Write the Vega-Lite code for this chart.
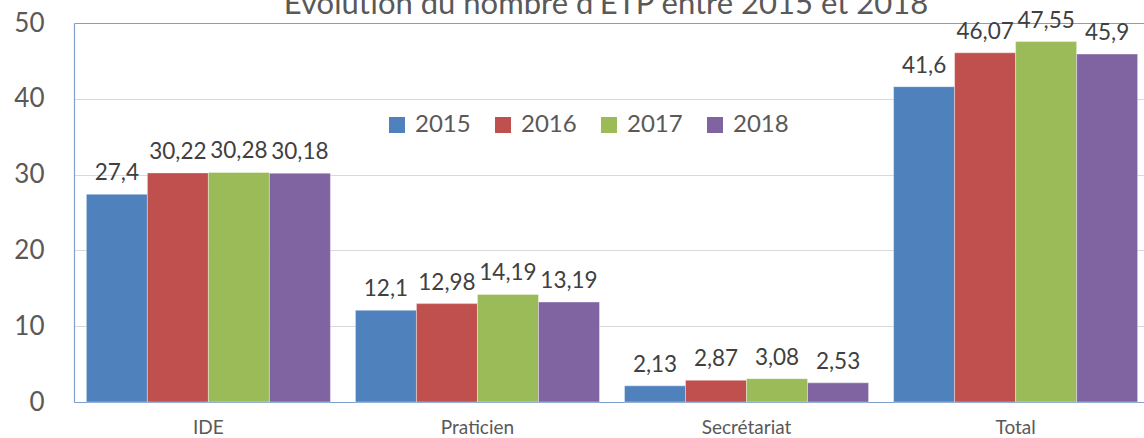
{
  "$schema": "https://vega.github.io/schema/vega-lite/v6.json",
  "width": 1070,
  "height": 379,
  "autosize": {"type": "none"},
  "padding": {"left": 74, "top": 23, "right": 0, "bottom": 36},
  "background": "white",
  "title": {
    "text": "Évolution du nombre d'ETP entre 2015 et 2018",
    "font": "Lato",
    "fontSize": 31,
    "fontWeight": "normal",
    "color": "#595959",
    "anchor": "middle",
    "frame": "group",
    "baseline": "alphabetic",
    "offset": 0,
    "dx": -3,
    "dy": 35
  },
  "config": {
    "locale": {"number": {"decimal": ",", "thousands": " ", "grouping": [3], "currency": ["", " €"]}},
    "view": {"stroke": null},
    "font": "Lato"
  },
  "data": {
    "values": [
      {"cat": "IDE", "year": "2015", "val": 27.4},
      {"cat": "IDE", "year": "2016", "val": 30.22},
      {"cat": "IDE", "year": "2017", "val": 30.28},
      {"cat": "IDE", "year": "2018", "val": 30.18},
      {"cat": "Praticien", "year": "2015", "val": 12.1},
      {"cat": "Praticien", "year": "2016", "val": 12.98},
      {"cat": "Praticien", "year": "2017", "val": 14.19},
      {"cat": "Praticien", "year": "2018", "val": 13.19},
      {"cat": "Secrétariat", "year": "2015", "val": 2.13},
      {"cat": "Secrétariat", "year": "2016", "val": 2.87},
      {"cat": "Secrétariat", "year": "2017", "val": 3.08},
      {"cat": "Secrétariat", "year": "2018", "val": 2.53},
      {"cat": "Total", "year": "2015", "val": 41.6},
      {"cat": "Total", "year": "2016", "val": 46.07},
      {"cat": "Total", "year": "2017", "val": 47.55},
      {"cat": "Total", "year": "2018", "val": 45.9}
    ]
  },
  "encoding": {
    "x": {
      "field": "cat",
      "type": "nominal",
      "sort": ["IDE", "Praticien", "Secrétariat", "Total"],
      "scale": {"paddingInner": 0.093, "paddingOuter": 0.046, "range": [0, 1076]},
      "axis": {
        "title": null,
        "labelAngle": 0,
        "labelFont": "Lato",
        "labelFontSize": 19,
        "labelColor": "#595959",
        "labelPadding": 16,
        "ticks": false,
        "domain": true,
        "domainColor": "#7f9fcf",
        "domainWidth": 1.2
      }
    },
    "xOffset": {"field": "year", "type": "nominal", "scale": {"paddingInner": 0, "paddingOuter": 0}},
    "y": {
      "field": "val",
      "type": "quantitative",
      "scale": {"domain": [0, 50], "nice": false},
      "axis": {
        "title": null,
        "values": [0, 10, 20, 30, 40, 50],
        "labelFont": "Lato",
        "labelFontSize": 26,
        "labelColor": "#595959",
        "labelPadding": 30,
        "ticks": false,
        "domain": true,
        "domainColor": "#7f9fcf",
        "domainWidth": 1.2,
        "gridColor": {"condition": {"test": "datum.value === 50", "value": "#7f9fcf"}, "value": "#d9d9d9"},
        "gridWidth": {"condition": {"test": "datum.value === 50", "value": 1.2}, "value": 1}
      }
    }
  },
  "layer": [
    {
      "mark": {"type": "bar", "stroke": "#ffffff", "strokeWidth": 0.6, "strokeOpacity": 0.6},
      "encoding": {
        "color": {
          "field": "year",
          "type": "nominal",
          "scale": {"domain": ["2015", "2016", "2017", "2018"], "range": ["#4f81bd", "#c0504d", "#9bbb59", "#8064a2"]},
          "legend": {
            "title": null,
            "orient": "none",
            "direction": "horizontal",
            "legendX": 311,
            "legendY": 90,
            "symbolType": "square",
            "symbolSize": 256,
            "symbolStrokeWidth": 0,
            "labelFont": "Lato",
            "labelFontSize": 24,
            "labelColor": "#595959",
            "columnPadding": 20,
            "labelOffset": 6
          }
        }
      }
    },
    {
      "mark": {"type": "text", "baseline": "alphabetic", "dy": -14, "font": "Lato", "fontSize": 22.5, "color": "#404040"},
      "encoding": {
        "text": {"field": "val", "type": "quantitative", "format": ".2~f"}
      }
    }
  ]
}
